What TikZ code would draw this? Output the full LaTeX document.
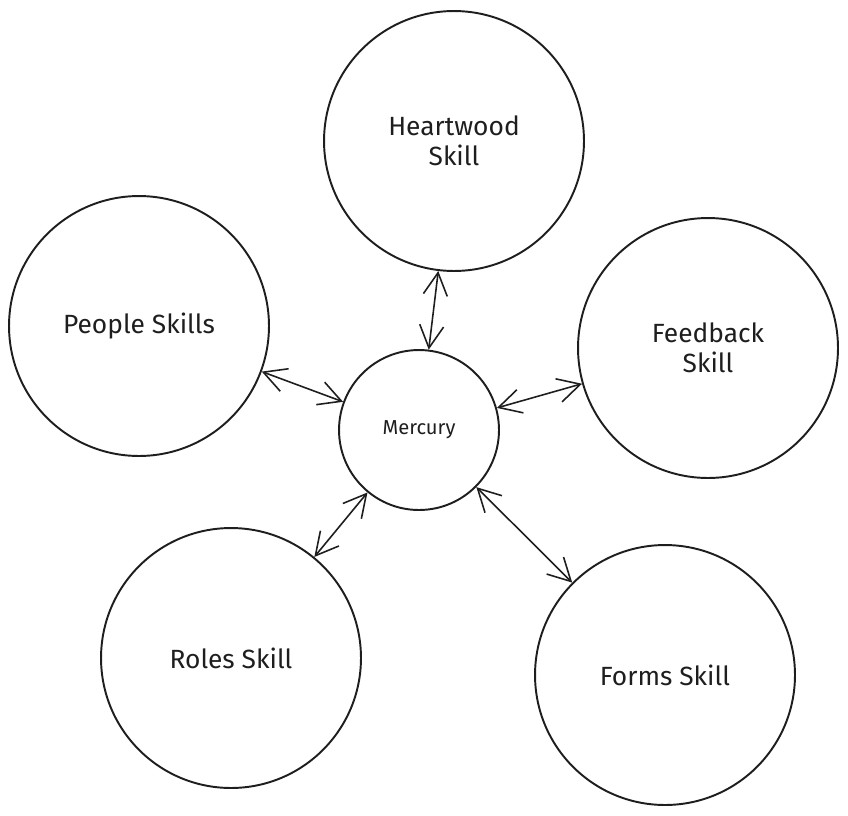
\documentclass[tikz,border=0pt]{standalone}
\usepackage{fontspec}
\setmainfont{Fira Sans}
\usepackage{tikz}
\usetikzlibrary{arrows.meta, positioning}
\definecolor{inkblack}{HTML}{1E1E1E}

\begin{document}
\begin{tikzpicture}[
      x=0.02cm, y=-0.02cm,
      skill/.style={draw=inkblack, circle, minimum size=5.2cm, inner sep=0pt, align=center, font=\fontsize{15}{17}\selectfont, line width=1.1pt, text=inkblack},
      hub/.style={draw=inkblack, circle, minimum size=3.2cm, inner sep=0pt, align=center, font=\fontsize{11.5}{13}\selectfont, line width=1.1pt, text=inkblack},
      link/.style={{Straight Barb[length=4.5mm, width=4.8mm]}-{Straight Barb[length=4.5mm, width=4.8mm]}, line width=0.9pt, color=inkblack}
  ]
    \useasboundingbox (0,0) rectangle (848,815);

    \node[hub] (mercury) at (419,430) {Mercury};
    \node[skill] (heartwood) at (454,141) {Heartwood\\Skill};
    \node[skill] (people) at (139,326) {People Skills};
    \node[skill] (feedback) at (708,348) {Feedback\\Skill};
    \node[skill] (roles) at (231,658) {Roles Skill};
    \node[skill] (forms) at (665,675) {Forms Skill};

    \draw[link] (heartwood) -- (mercury);
    \draw[link] (people) -- (mercury);
    \draw[link] (feedback) -- (mercury);
    \draw[link] (roles) -- (mercury);
    \draw[link] (forms) -- (mercury);
  \end{tikzpicture}
\end{document}
